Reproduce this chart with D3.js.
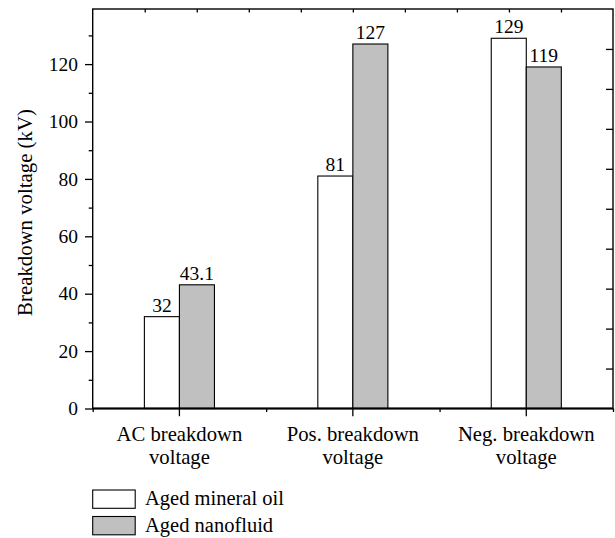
<!DOCTYPE html>
<html>
<head>
<meta charset="utf-8">
<script src="https://cdn.jsdelivr.net/npm/d3@7"></script>
<style>
  html, body { margin: 0; padding: 0; background: #fff; }
  svg { display: block; }
</style>
</head>
<body>
<svg id="chart" width="615" height="538" font-family="Liberation Serif"></svg>
<script>
const categories = [["AC breakdown", "voltage"], ["Pos. breakdown", "voltage"], ["Neg. breakdown", "voltage"]];
const seriesNames = ["Aged mineral oil", "Aged nanofluid"];
const mineralOil = [32, 81, 129];
const nanofluid = [43.1, 127, 119];
const valueLabels = [["32", "43.1"], ["81", "127"], ["129", "119"]];
const yTicks = [0, 20, 40, 60, 80, 100, 120];
const yMinorTicks = [10, 30, 50, 70, 90, 110, 130];
const seriesFill = ["#ffffff", "#c0c0c0"];

const FONT = "Liberation Serif";
const svg = d3.select("#chart");
const L = 92.7, R = 613, T = 9, B = 408.5;
const FS = 19.5;

const catKeys = categories.map(c => c.join(" "));
const x = d3.scaleBand().domain(catKeys).range([L, R]).paddingInner(0).paddingOuter(0);
const groupW = x.bandwidth() * 0.404;
const x1 = d3.scaleBand().domain(seriesNames).range([0, groupW]).padding(0);
const y = d3.scaleLinear().domain([0, 139.2]).range([B, T]);

const data = [];
catKeys.forEach((c, i) => {
  [mineralOil[i], nanofluid[i]].forEach((v, j) => {
    data.push({ cat: c, s: seriesNames[j], v: v, j: j, label: valueLabels[i][j] });
  });
});
const gx = c => x(c) + x.bandwidth() / 2 - groupW / 2;

svg.append("g").selectAll("rect").data(data).join("rect")
  .attr("x", d => gx(d.cat) + x1(d.s))
  .attr("y", d => y(d.v))
  .attr("width", x1.bandwidth())
  .attr("height", d => y(0) - y(d.v))
  .attr("fill", d => seriesFill[d.j])
  .attr("stroke", "#000")
  .attr("stroke-width", 1.1);

svg.append("g").selectAll("text").data(data).join("text")
  .attr("x", d => gx(d.cat) + x1(d.s) + x1.bandwidth() / 2)
  .attr("y", d => y(d.v) - 5)
  .attr("text-anchor", "middle")
  .attr("font-family", FONT)
  .attr("font-size", FS)
  .text(d => d.label);

svg.append("rect").attr("x", L).attr("y", T).attr("width", R - L).attr("height", B - T)
  .attr("fill", "none").attr("stroke", "#000").attr("stroke-width", 1.4);

function styleAxis(g) {
  g.select(".domain").remove();
  g.attr("font-family", FONT);
  g.selectAll("line").attr("stroke", "#000").attr("stroke-width", 1.3);
}

const yAxis = svg.append("g").attr("transform", `translate(${L},0)`)
  .call(d3.axisLeft(y).tickValues(yTicks).tickSize(7.7).tickPadding(7).tickFormat(d3.format("d")));
styleAxis(yAxis);
yAxis.attr("font-size", FS);
yAxis.selectAll("text").attr("font-size", FS).attr("font-family", FONT);
const yMinor = svg.append("g").attr("transform", `translate(${L},0)`)
  .call(d3.axisLeft(y).tickValues(yMinorTicks).tickSize(4).tickFormat(""));
styleAxis(yMinor);

const yR = d3.scaleLinear().domain([0, 10]).range([B, T]);
const rAxis = svg.append("g").attr("transform", `translate(${R},0)`)
  .call(d3.axisLeft(yR).tickValues(d3.range(1, 10)).tickSize(7).tickFormat(""));
styleAxis(rAxis);

const xT = d3.scaleLinear().domain([0, 10]).range([L, R]);
const tAxis = svg.append("g").attr("transform", `translate(0,${T})`)
  .call(d3.axisBottom(xT).tickValues(d3.range(1, 10)).tickSize(3.5).tickFormat(""));
styleAxis(tAxis);

const xAxis = svg.append("g").attr("transform", `translate(0,${B})`)
  .call(d3.axisBottom(x).tickSize(7.7).tickPadding(9).tickFormat(""));
styleAxis(xAxis);
const edges = catKeys.map(c => x(c)).concat([R]);
const xMinorScale = d3.scaleLinear().domain([L, R]).range([L, R]);
const xMinor = svg.append("g").attr("transform", `translate(0,${B})`)
  .call(d3.axisBottom(xMinorScale).tickValues(edges).tickSize(3.5).tickFormat(""));
styleAxis(xMinor);
svg.append("line").attr("x1", L).attr("x2", R).attr("y1", B).attr("y2", B)
  .attr("stroke", "#000").attr("stroke-width", 1.8);

const catG = svg.append("g");
categories.forEach((c, i) => {
  const cx = x(catKeys[i]) + x.bandwidth() / 2;
  const t = catG.append("text")
    .attr("x", cx)
    .attr("y", 440.5)
    .attr("text-anchor", "middle")
    .attr("font-family", FONT)
    .attr("font-size", 20.7);
  c.forEach((line, k) => {
    t.append("tspan").attr("x", cx).attr("dy", k === 0 ? 0 : 23.5).text(line);
  });
});

svg.append("text")
  .attr("transform", `translate(32,${(109 + 316) / 2}) rotate(-90)`)
  .attr("text-anchor", "middle")
  .attr("font-family", FONT)
  .attr("font-size", 20.8)
  .text("Breakdown voltage (kV)");

const lg = svg.append("g");
seriesNames.forEach((s, i) => {
  lg.append("rect")
    .attr("x", L).attr("y", 490 + i * 26.5)
    .attr("width", 42.5).attr("height", 18.3)
    .attr("fill", seriesFill[i]).attr("stroke", "#000").attr("stroke-width", 1.1);
  lg.append("text")
    .attr("x", 145).attr("y", 505 + i * 26.7)
    .attr("font-family", FONT)
    .attr("font-size", 20.5)
    .text(s);
});
</script>
</body>
</html>
